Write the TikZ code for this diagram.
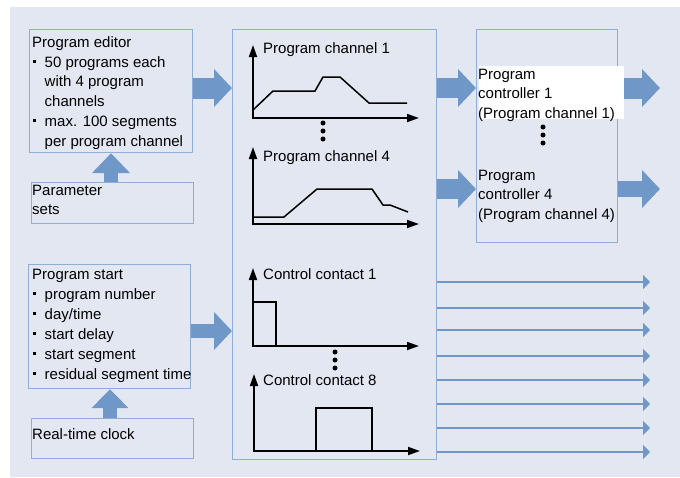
\documentclass[tikz,border=0pt]{standalone}
\usepackage{fontspec}
\setmainfont{Liberation Sans}
\usetikzlibrary{arrows.meta}
\definecolor{bgc}{HTML}{E3E7F2}
\definecolor{boxc}{HTML}{8EAED9}
\definecolor{arrc}{HTML}{6F98C8}
\newcommand\mybul{\makebox[12.5pt][l]{\hspace{1.2pt}\raisebox{4.3pt}{\rule{2.7pt}{2.7pt}}}}
\newcommand\myind{\hspace*{12.5pt}}
\tikzset{
  box/.style={draw=boxc, line width=1.2pt, anchor=north west, inner sep=0pt},
  txt/.style={anchor=north west, inner sep=0pt, align=left, font=\fontsize{15}{19.8}\selectfont},
  lbl/.style={anchor=base west, inner sep=0pt, font=\fontsize{15}{18}\selectfont},
  fatarrow/.style={draw=arrc, line width=#1, -{Triangle[length=18pt,width=37pt]}},
  thinarrow/.style={draw=arrc, line width=1.5pt, -{Triangle[length=7pt,width=14pt]}},
  axis/.style={line width=1.8pt, {Triangle[length=12pt,width=8pt]}-{Triangle[length=12pt,width=8pt]}, line join=miter},
  curve/.style={line width=1.5pt, line join=miter},
  dot/.style={circle, fill=black, inner sep=0pt, minimum size=5pt},
}
\begin{document}
\begin{tikzpicture}[x=1pt,y=-1pt]
\useasboundingbox (0,0) rectangle (680,477);
\fill[bgc] (10,7) rectangle (680,477);

% boxes
\node[box, minimum width=163pt, minimum height=123pt] (editor) at (29,29) {};
\node[box, minimum width=162pt, minimum height=41pt] (params) at (31,182) {};
\node[box, minimum width=162pt, minimum height=124pt] (start) at (28,264) {};
\node[box, minimum width=162pt, minimum height=40pt] (clock) at (31,418) {};
\node[box, minimum width=204pt, minimum height=430pt] (mid) at (232,29) {};
\node[box, minimum width=141pt, minimum height=213pt] (right) at (476,29) {};

% helper coordinates
\coordinate (r1) at (0,88);
\coordinate (r2) at (0,189);
\coordinate (r3) at (0,331);
\coordinate (c4) at (111,0);
\coordinate (c5) at (110,0);
\coordinate (o1) at (660,88);
\coordinate (o2) at (660,189);

% fat arrows
\draw[fatarrow=21pt] (editor.east |- r1) -- (mid.west |- r1);
\draw[fatarrow=20pt] (mid.east |- r1) -- (right.west |- r1);
\draw[fatarrow=20pt] (mid.east |- r2) -- (right.west |- r2);
\draw[fatarrow=21pt] (right.east |- r1) -- (o1);
\draw[fatarrow=16pt] (right.east |- r2) -- (o2);
\draw[fatarrow=14pt] (start.east |- r3) -- (mid.west |- r3);
\draw[draw=arrc, line width=14pt, -{Triangle[length=20pt,width=37pt]}] (params.north -| c4) -- (editor.south -| c4);
\draw[draw=arrc, line width=14pt, -{Triangle[length=19pt,width=36pt]}] (clock.north -| c5) -- (start.south -| c5);

% thin output arrows
\foreach \y [count=\i] in {282,308,330,356,380,404,428,452}{
  \coordinate (t\i) at (650,\y);
  \draw[thinarrow] (mid.east |- t\i) -- (t\i);
}

% white label box
\node[fill=white, anchor=north west, inner sep=0pt, minimum width=145pt, minimum height=53pt] (wbox) at (479,66) {};

% texts
\node[txt] (editortxt) at (32,36.2) {Program editor\\\mybul 50 programs each\\\myind with 4 program\\\myind channels\\\mybul max. 100 segments\\\myind per program channel};
\node[txt, font=\fontsize{15}{19}\selectfont] (paramstxt) at (32,185.2) {Parameter\\sets};
\node[txt, font=\fontsize{15}{20}\selectfont] (starttxt) at (32,268.5) {Program start\\\mybul program number\\\mybul day/time\\\mybul start delay\\\mybul start segment\\\mybul residual segment time};
\node[lbl] (clocktxt) at (32,439) {Real-time clock};
\node[txt] (ctrl1) at (478,68.5) {Program\\controller 1\\(Program channel 1)};
\node[txt, font=\fontsize{15}{19.6}\selectfont] (ctrl4) at (478,169.7) {Program\\controller 4\\(Program channel 4)};

% right box dots
\node[dot] (rd1) at (543,127) {};
\node[dot] (rd2) at (543,135) {};
\node[dot] (rd3) at (543,143) {};

% chart: program channel 1
\draw[axis] (253,45) -- (253,118) -- (419,118);
\node[lbl] (pc1) at (263,53) {Program channel 1};
\draw[curve] (253,110) -- (273,91) -- (315,91) -- (323,77) -- (340,77) -- (369,103) -- (407,103);
\node[dot] (pd1) at (323,123) {};
\node[dot] (pd2) at (323,131) {};
\node[dot] (pd3) at (323,139) {};

% chart: program channel 4
\draw[axis] (253,147) -- (253,224) -- (419,224);
\node[lbl] (pc4) at (263,161) {Program channel 4};
\draw[curve] (253,217) -- (284,217) -- (317,189) -- (372,189) -- (383,205) -- (390,205) -- (408,212);

% chart: control contact 1
\draw[axis] (253,268) -- (253,346) -- (419,346);
\node[lbl] (cc1) at (263,279) {Control contact 1};
\draw[curve] (253,302) -- (276,302) -- (276,346);
\node[dot] (cd1) at (335,352) {};
\node[dot] (cd2) at (335,360) {};
\node[dot] (cd3) at (335,368) {};

% chart: control contact 8
\draw[axis] (254,374) -- (254,451) -- (420,451);
\node[lbl] (cc8) at (263,385) {Control contact 8};
\draw[curve] (316,451) -- (316,408) -- (372,408) -- (372,451);
\end{tikzpicture}
\end{document}
